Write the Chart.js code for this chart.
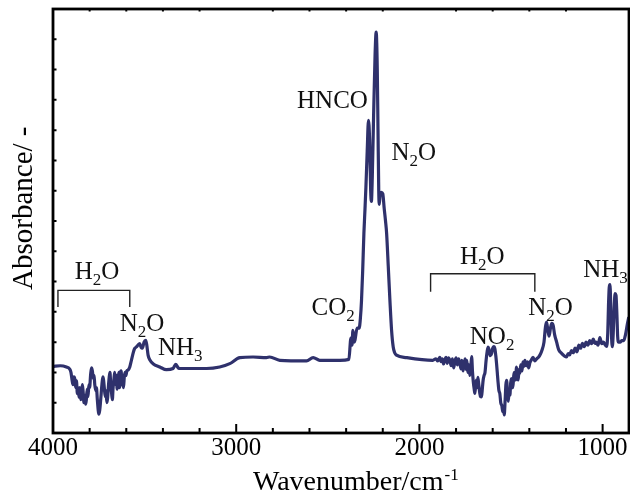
<!DOCTYPE html>
<html><head><meta charset="utf-8">
<script src="https://cdn.jsdelivr.net/npm/chart.js@4/dist/chart.umd.min.js"></script>
<style>html,body{margin:0;padding:0;background:#fff}#wrap{width:630px;height:497px;position:relative}</style>
</head><body><div id="wrap"><canvas id="c" width="630" height="497"></canvas></div>
<script>
// ---- data (wavenumber in cm-1, absorbance arbitrary units) ----
const wavenumbers = [4000,3960,3927,3910,3902,3896,3891,3886,3881,3876,3872,3867,3863,3858,3854,3849,3845,3840,3836,3831,3827,3822,3818,3813,3809,3804,3800,3795,3790,3785,3780,3776,3772,3767,3763,3758,3754,3750,3745,3741,3737,3733,3728,3724,3720,3715,3711,3706,3702,3698,3693,3689,3685,3680,3676,3672,3667,3663,3659,3654,3650,3645,3641,3637,3633,3628,3624,3620,3615,3611,3606,3602,3597,3590,3581,3572,3563,3555,3545,3536,3527,3519,3512,3503,3494,3488,3481,3470,3454,3417,3381,3345,3330,3320,3312,3254,3162,3090,3035,2980,2908,2835,2817,2762,2616,2580,2544,2434,2385,2374,2368,2363,2356,2352,2340,2329,2322,2316,2310,2303,2297,2292,2285,2278,2272,2266,2262,2257,2250,2242,2236,2230,2226,2222,2219,2215,2208,2200,2192,2185,2179,2170,2161,2152,2143,2135,2125,2070,1927,1910,1900,1889,1882,1875,1868,1862,1855,1848,1841,1834,1827,1820,1813,1807,1800,1793,1786,1779,1773,1768,1762,1757,1750,1745,1741,1736,1730,1725,1720,1715,1710,1706,1701,1697,1693,1689,1685,1681,1676,1670,1666,1661,1656,1652,1647,1642,1636,1630,1625,1620,1613,1606,1600,1594,1588,1583,1579,1575,1571,1566,1561,1556,1550,1545,1541,1537,1532,1528,1524,1519,1515,1510,1506,1502,1498,1494,1490,1485,1480,1475,1470,1466,1461,1456,1452,1447,1440,1435,1430,1424,1418,1410,1404,1397,1390,1380,1370,1360,1350,1340,1333,1320,1312,1306,1299,1292,1285,1278,1270,1262,1251,1240,1224,1210,1197,1188,1180,1170,1160,1150,1140,1130,1120,1110,1100,1090,1080,1070,1060,1051,1042,1035,1025,1015,1005,995,985,978,972,968,964,960,956,952,947,942,937,932,927,922,918,913,905,895,885,875,865,857];
const absorbance = [0.220,0.222,0.218,0.212,0.200,0.175,0.160,0.185,0.178,0.150,0.172,0.130,0.150,0.118,0.150,0.110,0.120,0.160,0.140,0.100,0.125,0.095,0.110,0.145,0.120,0.160,0.150,0.190,0.215,0.205,0.180,0.190,0.160,0.140,0.150,0.110,0.080,0.062,0.075,0.100,0.130,0.160,0.185,0.175,0.150,0.120,0.140,0.100,0.115,0.150,0.185,0.200,0.160,0.130,0.110,0.150,0.180,0.200,0.160,0.190,0.145,0.170,0.200,0.150,0.195,0.205,0.160,0.170,0.150,0.185,0.200,0.190,0.205,0.208,0.218,0.240,0.263,0.278,0.284,0.290,0.295,0.283,0.280,0.300,0.306,0.290,0.257,0.240,0.229,0.218,0.209,0.213,0.227,0.218,0.213,0.213,0.213,0.218,0.229,0.249,0.251,0.249,0.251,0.240,0.238,0.249,0.240,0.240,0.243,0.313,0.290,0.339,0.300,0.306,0.346,0.346,0.380,0.438,0.530,0.659,0.740,0.812,0.930,1.032,0.970,0.800,0.765,0.850,1.050,1.250,1.324,1.200,1.000,0.800,0.755,0.785,0.795,0.790,0.740,0.700,0.659,0.550,0.438,0.340,0.284,0.265,0.257,0.249,0.240,0.245,0.238,0.250,0.236,0.245,0.228,0.240,0.250,0.230,0.248,0.240,0.222,0.245,0.215,0.235,0.248,0.225,0.245,0.230,0.212,0.240,0.205,0.225,0.245,0.210,0.240,0.200,0.225,0.190,0.215,0.252,0.200,0.170,0.145,0.131,0.160,0.175,0.150,0.184,0.160,0.130,0.120,0.119,0.150,0.175,0.190,0.200,0.240,0.270,0.284,0.275,0.255,0.262,0.280,0.285,0.278,0.255,0.230,0.200,0.170,0.140,0.130,0.100,0.090,0.070,0.085,0.060,0.110,0.160,0.174,0.130,0.105,0.140,0.125,0.165,0.180,0.150,0.150,0.190,0.200,0.175,0.218,0.190,0.175,0.210,0.197,0.225,0.205,0.235,0.220,0.240,0.222,0.235,0.215,0.232,0.240,0.250,0.238,0.245,0.250,0.260,0.270,0.300,0.350,0.366,0.340,0.320,0.345,0.362,0.355,0.325,0.300,0.275,0.263,0.255,0.251,0.262,0.258,0.272,0.265,0.280,0.268,0.290,0.280,0.296,0.285,0.300,0.290,0.305,0.295,0.310,0.296,0.300,0.290,0.315,0.295,0.300,0.290,0.286,0.330,0.420,0.480,0.490,0.430,0.330,0.285,0.330,0.410,0.460,0.455,0.390,0.320,0.300,0.300,0.305,0.305,0.325,0.360,0.383];
const xTickLabels = [4000, 3000, 2000, 1000];
const xMinorTicks = [3800, 3600, 3400, 3200, 2800, 2600, 2400, 2200, 1800, 1600, 1400, 1200];
const yMinorTicks = [0.1,0.2,0.3,0.4,0.5,0.6,0.7,0.8,0.9,1.0,1.1,1.2,1.3];
const xTitle = 'Wavenumber/cm';
const xTitleSup = '-1';
const yTitle = 'Absorbance/ -';
// band labels: main text, subscript, trailing text, anchored at (wavenumber, absorbance)
const bandLabels = [
  {main:'H', sub:'2', rest:'O', wn:3881, a:0.510},
  {main:'N', sub:'2', rest:'O', wn:3636, a:0.337},
  {main:'NH', sub:'3', rest:'', wn:3427, a:0.257},
  {main:'CO', sub:'2', rest:'', wn:2589, a:0.389},
  {main:'HNCO', sub:'', rest:'', wn:2668, a:1.074},
  {main:'N', sub:'2', rest:'O', wn:2152, a:0.900},
  {main:'H', sub:'2', rest:'O', wn:1779, a:0.559},
  {main:'NO', sub:'2', rest:'', wn:1725, a:0.295},
  {main:'N', sub:'2', rest:'O', wn:1406, a:0.389},
  {main:'NH', sub:'3', rest:'', wn:1106, a:0.515}
];
// H2O brackets: from wn1 to wn2 at level top, legs down to level bottom
const brackets = [
  {wn1:3973, wn2:3581, top:0.471, bottom:0.416},
  {wn1:1939, wn2:1370, top:0.526, bottom:0.466}
];

const SERIF = "'Liberation Serif', 'Times New Roman', serif";

const decor = {
  id: 'decor',
  afterDraw(chart) {
    const {ctx, chartArea: ca, scales: {x, y}} = chart;
    ctx.save();
    ctx.strokeStyle = '#000';
    ctx.lineWidth = 2.8;
    ctx.strokeRect(ca.left, ca.top, ca.right - ca.left, ca.bottom - ca.top);
    // ticks (inward)
    ctx.lineWidth = 2;
    ctx.beginPath();
    xTickLabels.forEach(v => { const p = x.getPixelForValue(v); ctx.moveTo(p, ca.bottom); ctx.lineTo(p, ca.bottom - 9); });
    xMinorTicks.forEach(v => { const p = x.getPixelForValue(v); ctx.moveTo(p, ca.bottom); ctx.lineTo(p, ca.bottom - 5); ctx.moveTo(p, ca.top); ctx.lineTo(p, ca.top + 2.5); });
    yMinorTicks.forEach(v => { const p = y.getPixelForValue(v); ctx.moveTo(ca.left, p); ctx.lineTo(ca.left + 3.5, p); });
    ctx.stroke();
    // brackets
    ctx.strokeStyle = '#222';
    ctx.lineWidth = 1.4;
    brackets.forEach(b => {
      const x1 = x.getPixelForValue(b.wn1), x2 = x.getPixelForValue(b.wn2);
      const yt = y.getPixelForValue(b.top), yb = y.getPixelForValue(b.bottom);
      ctx.beginPath();
      ctx.moveTo(x1, yb); ctx.lineTo(x1, yt); ctx.lineTo(x2, yt); ctx.lineTo(x2, yb);
      ctx.stroke();
    });
    // band labels
    ctx.fillStyle = '#111';
    ctx.textBaseline = 'alphabetic';
    ctx.textAlign = 'left';
    bandLabels.forEach(l => {
      let px = x.getPixelForValue(l.wn);
      const py = y.getPixelForValue(l.a);
      ctx.font = `25px ${SERIF}`;
      ctx.fillText(l.main, px, py);
      px += ctx.measureText(l.main).width;
      if (l.sub) {
        ctx.font = `17px ${SERIF}`;
        ctx.fillText(l.sub, px, py + 6);
        px += ctx.measureText(l.sub).width;
      }
      if (l.rest) {
        ctx.font = `25px ${SERIF}`;
        ctx.fillText(l.rest, px, py);
      }
    });
    // axis titles
    ctx.fillStyle = '#000';
    ctx.font = `28px ${SERIF}`;
    const tx = ca.left + 200;
    ctx.fillText(xTitle, tx, 490);
    const tw = ctx.measureText(xTitle).width;
    ctx.font = `17px ${SERIF}`;
    ctx.fillText(xTitleSup, tx + tw + 1, 480);
    ctx.save();
    ctx.translate(ca.left - 21, 290);
    ctx.rotate(-Math.PI / 2);
    ctx.font = `29px ${SERIF}`;
    ctx.fillText(yTitle, 0, 0);
    ctx.restore();
    ctx.restore();
  }
};

new Chart(document.getElementById('c'), {
  type: 'line',
  data: {
    datasets: [{
      data: wavenumbers.map((w, i) => ({x: w, y: absorbance[i]})),
      borderColor: '#2f316c',
      borderWidth: 3.2,
      pointRadius: 0,
      cubicInterpolationMode: 'monotone',
      fill: false
    }]
  },
  options: {
    responsive: false,
    animation: false,
    devicePixelRatio: 1,
    layout: {padding: {left: 53, right: 1, top: 9, bottom: 34}},
    plugins: {legend: {display: false}, tooltip: {enabled: false}},
    scales: {
      x: {
        type: 'linear', reverse: true, min: 856, max: 4000,
        afterBuildTicks: s => { s.ticks = xTickLabels.map(v => ({value: v})); },
        ticks: {autoSkip: false, maxRotation: 0, padding: 0, color: '#000',
          font: {family: SERIF, size: 25}, callback: v => String(v)},
        grid: {display: false, drawTicks: false},
        border: {display: false}
      },
      y: {
        display: false,
        min: 0, max: 1.4
      }
    }
  },
  plugins: [decor]
});
</script>
</body></html>
